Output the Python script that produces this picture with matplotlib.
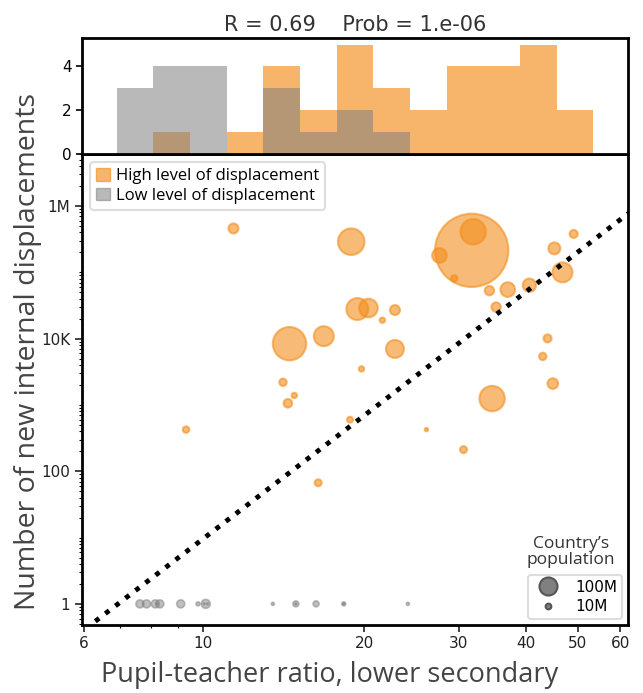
import numpy as np
import matplotlib.pyplot as plt
import matplotlib.ticker as mticker
from matplotlib.patches import Patch
from matplotlib.lines import Line2D

# countries with a high level of displacement
high_ratio = [11.4, 18.9, 31.7, 31.9, 27.6, 29.4, 49.1, 45.2, 46.8, 40.6,
              37.0, 34.2, 35.2, 19.4, 20.35, 22.8, 21.6, 14.5, 16.8, 22.8,
              19.75, 43.9, 43.0, 44.9, 14.1, 14.8, 14.4, 34.6, 18.8, 26.1,
              30.6, 9.3, 16.4]
high_idp = [4.6e5, 2.9e5, 2.15e5, 4.1e5, 1.8e5, 8.1e4, 3.8e5, 2.3e5, 1.0e5, 6.4e4,
            5.5e4, 5.3e4, 3.0e4, 2.8e4, 2.9e4, 2.7e4, 1.9e4, 8.4e3, 1.09e4, 7.0e3,
            3.5e3, 1.01e4, 5.4e3, 2.1e3, 2.2e3, 1.39e3, 1.06e3, 1.25e3, 600, 425,
            212, 425, 67]
high_pop = [31, 218, 1660, 199, 66, 13, 20, 44, 123, 55,
            66, 27, 27, 149, 107, 31, 9, 344, 123, 100,
            9, 20, 17, 35, 17, 9, 23, 199, 11, 3.5,
            15, 13, 15]  # millions

# countries with a low level of displacement (plotted at 1)
low_ratio = [6.95, 7.63, 7.85, 8.15, 8.2, 8.31, 9.09, 9.79, 10.05, 10.12,
             10.2, 13.5, 14.9, 14.9, 16.25, 18.3, 18.3, 24.1]
low_idp = [1] * 18
low_pop = [0.5, 20, 20, 20, 1, 20, 20, 5, 1, 25,
           1, 3, 11, 1, 11, 5, 1, 3]

# regression line in log-log space
fit_slope = 6.19
fit_icpt = -5.21

hist_edges = np.logspace(np.log10(6.9), np.log10(53.4), 14)

orange = '#F28E1C'
size_k = 1.68

fig = plt.figure(figsize=(6.43, 6.93), dpi=100)
W, H = 643, 693
ax = fig.add_axes([82 / W, 1 - 625 / H, 546 / W, 471 / H])
axh = fig.add_axes([82 / W, 1 - 154 / H, 546 / W, 116 / H], sharex=ax)

label_font = ['Open Sans', 'DejaVu Sans']

# histogram
axh.hist(high_ratio, bins=hist_edges, color=orange, alpha=0.65)
axh.hist(low_ratio, bins=hist_edges, color='gray', alpha=0.55)
axh.set_ylim(0, 5.3)
axh.set_yticks([0, 2, 4])
axh.tick_params(axis='x', which='both', bottom=False, labelbottom=False)
axh.tick_params(axis='y', labelsize=11, length=4, width=1.2)
axh.set_title('R = 0.69    Prob = 1.e-06', fontsize=15, color='#333333', pad=5)

# scatter
ax.scatter(high_ratio, high_idp, s=np.array(high_pop) * size_k, color=orange,
           alpha=0.6, linewidths=1.5, edgecolors=orange, zorder=3)
ax.scatter(low_ratio, low_idp, s=np.array(low_pop) * size_k, color='gray',
           alpha=0.5, linewidths=1.2, edgecolors='gray', zorder=3)

xs = np.logspace(np.log10(6.3), np.log10(64), 100)
ax.plot(xs, 10 ** (fit_slope * np.log10(xs) + fit_icpt), color='black',
        linestyle=(0, (1, 1.6)), linewidth=3.5, zorder=4)

ax.set_xscale('log')
ax.set_yscale('log')
ax.set_xlim(5.95, 62)
ax.set_ylim(0.48, 6.1e6)

ax.xaxis.set_major_locator(mticker.FixedLocator([6, 10, 20, 30, 40, 50, 60]))
ax.xaxis.set_major_formatter(mticker.FixedFormatter(['6', '10', '20', '30', '40', '50', '60']))
ax.xaxis.set_minor_locator(mticker.FixedLocator([7, 8, 9]))
ax.xaxis.set_minor_formatter(mticker.NullFormatter())
ax.yaxis.set_major_locator(mticker.FixedLocator([1, 100, 1e4, 1e6]))
ax.yaxis.set_major_formatter(mticker.FixedFormatter(['1', '100', '10K', '1M']))
ax.yaxis.set_minor_locator(mticker.LogLocator(base=10, subs=np.arange(1, 10), numticks=20))
ax.yaxis.set_minor_formatter(mticker.NullFormatter())
ax.tick_params(axis='both', which='major', labelsize=11, length=5, width=1.2, colors='#222222')
ax.tick_params(axis='x', which='major', pad=3)
ax.tick_params(axis='both', which='minor', length=2.5, width=0.8)

for a in (ax, axh):
    for sp in a.spines.values():
        sp.set_linewidth(2)
        sp.set_color('black')

fig.text(330 / W, 1 - 682 / H, 'Pupil-teacher ratio, lower secondary', fontsize=19.5,
         family=label_font, color='#444444', va='baseline', ha='center')
fig.text(28 / W, 1 - 352 / H, 'Number of new internal displacements',
         rotation=90, fontsize=20.5, family=label_font, color='#444444', va='center', ha='center')

leg1 = ax.legend(handles=[Patch(color=orange, alpha=0.65, label='High level of displacement'),
                          Patch(color='gray', alpha=0.55, label='Low level of displacement')],
                 loc='upper left', prop={'family': label_font, 'size': 12},
                 handlelength=0.8, handleheight=0.8, handletextpad=0.4,
                 borderaxespad=0.5, borderpad=0.35, labelspacing=0.2, framealpha=1)
leg1.get_frame().set_edgecolor('#dddddd')
leg1.get_frame().set_linewidth(1.5)
ax.add_artist(leg1)

pop_handles = [Line2D([], [], linestyle='', marker='o', markersize=np.sqrt(100 * size_k),
                      markerfacecolor='#808080', markeredgecolor='#555555', markeredgewidth=1.5,
                      label='100M'),
               Line2D([], [], linestyle='', marker='o', markersize=np.sqrt(10 * size_k),
                      markerfacecolor='#808080', markeredgecolor='#555555', markeredgewidth=1.5,
                      label='10M')]
leg2 = ax.legend(handles=pop_handles, loc='lower right', fontsize=11,
                 borderaxespad=0.4, borderpad=0.3, labelspacing=0.3, handletextpad=0.8,
                 framealpha=1)
leg2.get_frame().set_edgecolor('#dddddd')
leg2.get_frame().set_linewidth(1.5)
ax.text(0.895, 0.122, 'Country\u2019s\npopulation', transform=ax.transAxes, ha='center',
        va='bottom', fontsize=12.5, family=label_font, color='#333333', linespacing=0.95)

fig.savefig('out.png', dpi=100)
